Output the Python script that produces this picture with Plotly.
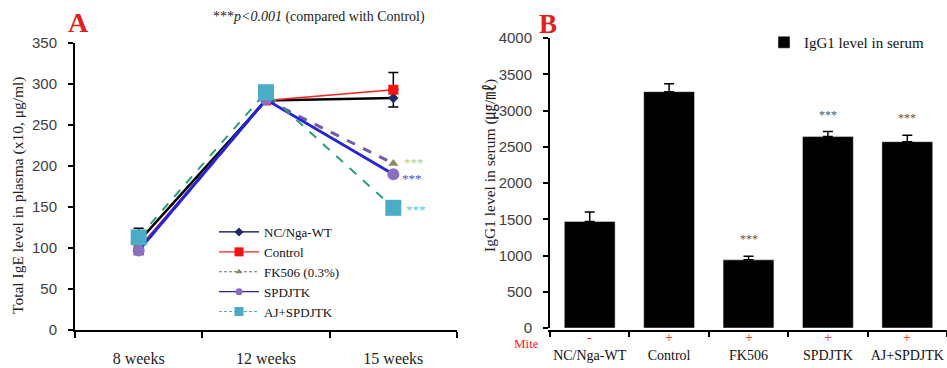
import plotly.graph_objects as go

# ---------------- Panel A data ----------------
weeks = ["8 weeks", "12 weeks", "15 weeks"]
wt_vals = [108, 280, 283]
wt_err = [16, 0, 11]
control_vals = [100, 280, 293]
control_err = [0, 0, 21]
fk506_vals = [97, 281, 203]
spdjtk_vals = [97, 281, 190]
ajspdjtk_vals = [113, 290, 149]

# ---------------- Panel B data ----------------
groups = ["NC/Nga-WT", "Control", "FK506", "SPDJTK", "AJ+SPDJTK"]
mite = ["-", "+", "+", "+", "+"]
igg1_vals = [1470, 3260, 940, 2640, 2570]
igg1_err = [130, 110, 50, 70, 90]
igg1_sig = ["", "", "***", "***", "***"]

SERIF = "Liberation Serif, Times New Roman, serif"
SANS = "Liberation Sans, Arial, sans-serif"
H = 368.0
W = 947.0


def py(pix):
    return (H - pix) / H


fig = go.Figure()

# Panel A traces (plot styling)
series = [
    dict(name="NC/Nga-WT", y=wt_vals, line=dict(color="black", width=2.5),
         marker=dict(symbol="diamond", size=8, color="#1f2a6b"),
         err=dict(type="data", array=wt_err, color="black", thickness=1.5, width=5),
         leg_line=dict(color="#000040", width=1.2),
         leg_marker=dict(symbol="diamond", size=7, color="#1f2a6b")),
    dict(name="Control", y=control_vals, line=dict(color="#ff2020", width=1.5),
         marker=dict(symbol="square", size=10, color="#ff1010"),
         err=dict(type="data", array=control_err, arrayminus=[0, 0, 0],
                  color="black", thickness=1.5, width=5),
         leg_line=dict(color="#ff2020", width=1.2),
         leg_marker=dict(symbol="square", size=9, color="#ff1010")),
    dict(name="FK506 (0.3%)", y=fk506_vals, line=dict(color="#7a5a9e", width=3, dash="dash"),
         marker=dict(symbol="triangle-up", size=9, color="#8c8a5a"),
         err=None,
         leg_line=dict(color="#707070", width=1, dash="3px,2px"),
         leg_marker=dict(symbol="triangle-up", size=6, color="#8c8a5a")),
    dict(name="SPDJTK", y=spdjtk_vals, line=dict(color="#2424d8", width=3),
         marker=dict(symbol="circle", size=12, color="#8a70c0"),
         err=None,
         leg_line=dict(color="#2424a0", width=1.2),
         leg_marker=dict(symbol="circle", size=7, color="#8a70c0")),
    dict(name="AJ+SPDJTK", y=ajspdjtk_vals, line=dict(color="#2aa070", width=2, dash="dash"),
         marker=dict(symbol="square", size=16, color="#4bacc6"),
         err=None,
         leg_line=dict(color="#4bacc6", width=1, dash="3px,2px"),
         leg_marker=dict(symbol="square", size=9, color="#4bacc6")),
]

for s in series:
    kw = {}
    if s["err"] is not None:
        kw["error_y"] = s["err"]
    fig.add_trace(go.Scatter(
        x=weeks, y=s["y"], name=s["name"], mode="lines+markers",
        line=s["line"], marker=s["marker"], showlegend=False,
        xaxis="x", yaxis="y", **kw))

# legend-only entries in the thin style used by the reference legend
for s in series:
    fig.add_trace(go.Scatter(
        x=[None], y=[None], name=s["name"], mode="lines+markers",
        line=s["leg_line"], marker=s["leg_marker"], showlegend=True,
        xaxis="x", yaxis="y", legend="legend"))

# Panel B bars
fig.add_trace(go.Bar(
    x=groups, y=igg1_vals, name="IgG1 level in serum",
    marker=dict(color="black"), width=0.64,
    error_y=dict(type="data", array=igg1_err, arrayminus=[0] * len(groups),
                 color="black", thickness=1.5, width=5),
    xaxis="x2", yaxis="y2", legend="legend2"))

anns = []


def ann(**k):
    k.setdefault("showarrow", False)
    k.setdefault("xanchor", "center")
    k.setdefault("yanchor", "middle")
    anns.append(k)


# significance stars panel A
ann(x=weeks[2], y=fk506_vals[2], xref="x", yref="y", text="***", xanchor="left",
    xshift=9, yshift=1, font=dict(family=SERIF, size=13, color="#b5d27a"))
ann(x=weeks[2], y=spdjtk_vals[2], xref="x", yref="y", text="***", xanchor="left",
    xshift=7, yshift=-4, font=dict(family=SERIF, size=13, color="#4c4ce0"))
ann(x=weeks[2], y=ajspdjtk_vals[2], xref="x", yref="y", text="***", xanchor="left",
    xshift=11, yshift=-2, font=dict(family=SERIF, size=13, color="#5bc6e6"))
# significance stars panel B
for g, v, e, s in zip(groups, igg1_vals, igg1_err, igg1_sig):
    if s:
        ann(x=g, y=v + e, xref="x2", yref="y2", text=s, yanchor="bottom", yshift=8,
            font=dict(family=SERIF, size=12, color="#555555"))
# mite +/- row
for g, m in zip(groups, mite):
    ann(x=g, y=py(337), xref="x2", yref="paper", text=m,
        font=dict(family=SERIF, size=14, color="#ff2020"))
ann(x=526 / W, y=py(343), xref="paper", yref="paper", text="Mite",
    font=dict(family=SERIF, size=13, color="#ff2020"))
# panel letters and header
ann(x=78 / W, y=py(22), xref="paper", yref="paper", text="<b>A</b>",
    font=dict(family=SERIF, size=28, color="#e02020"))
ann(x=548 / W, y=py(24), xref="paper", yref="paper", text="<b>B</b>",
    font=dict(family=SERIF, size=27, color="#e02020"))
ann(x=319 / W, y=py(17), xref="paper", yref="paper",
    text="***<i>p&lt;0.001</i> (compared with Control)",
    font=dict(family=SERIF, size=14, color="#222222"))
# axis titles
ann(x=18 / W, y=py(195), xref="paper", yref="paper",
    text="Total IgE level in plasma (x10, μg/ml)", textangle=-90,
    font=dict(family=SERIF, size=15.5, color="#222222"))
ann(x=490 / W, y=py(166), xref="paper", yref="paper",
    text="IgG1 level in serum (㎍/㎖)", textangle=-90,
    font=dict(family="Liberation Serif, Noto Sans CJK KR", size=15.5, color="#222222"))

axis_common = dict(showline=True, linecolor="black", linewidth=2, showgrid=False,
                   zeroline=False, ticks="outside", tickcolor="black", tickwidth=2,
                   automargin=False)

fig.update_layout(
    width=947, height=368,
    margin=dict(l=0, r=0, t=0, b=0, autoexpand=False),
    paper_bgcolor="white", plot_bgcolor="white",
    annotations=anns,
    xaxis=dict(domain=[75 / W, 457 / W], range=[-0.5, 2.5], type="category",
               tickson="boundaries", ticklen=6, ticklabelstandoff=13, tickangle=0,
               tickfont=dict(family=SERIF, size=16, color="#222222"), **axis_common),
    yaxis=dict(domain=[py(330), py(43)], range=[0, 350], dtick=50,
               ticklen=5, ticklabelstandoff=8,
               tickfont=dict(family=SANS, size=15, color="#404040"), **axis_common),
    xaxis2=dict(domain=[550 / W, 1.0], range=[-0.5, 4.5], type="category",
                tickson="boundaries", ticklen=5, ticklabelstandoff=11, tickangle=0,
                tickfont=dict(family=SERIF, size=14, color="#111111"), **axis_common),
    yaxis2=dict(domain=[py(328), py(38)], range=[0, 4000], dtick=500,
                ticklen=5, ticklabelstandoff=8, anchor="x2",
                tickfont=dict(family=SANS, size=15, color="#404040"), **axis_common),
    legend=dict(x=214 / W, y=py(217), xanchor="left", yanchor="top",
                bgcolor="rgba(0,0,0,0)", itemwidth=40,
                font=dict(family=SERIF, size=13, color="#111111")),
    legend2=dict(x=764 / W, y=py(26), xanchor="left", yanchor="top",
                 bgcolor="rgba(0,0,0,0)", itemwidth=30,
                 font=dict(family=SERIF, size=15, color="#111111")),
    showlegend=True,
)

fig.write_html("out.html")
